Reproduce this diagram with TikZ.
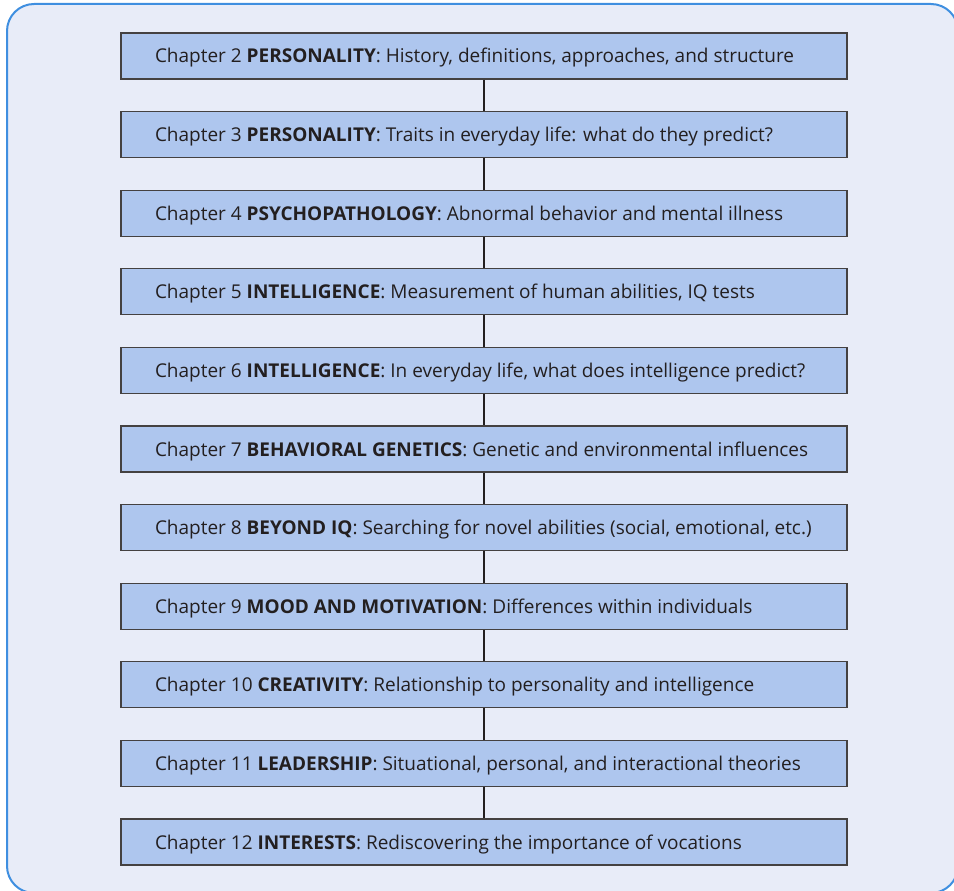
\documentclass[tikz,border=0pt]{standalone}
\usepackage{fontspec}
\setmainfont{Open Sans}
\usetikzlibrary{positioning}
\definecolor{panelfill}{HTML}{E8ECF8}
\definecolor{panelline}{HTML}{3F8FE0}
\definecolor{boxfill}{HTML}{AEC6EE}
\definecolor{inkgray}{HTML}{231F20}
\newcommand{\chapline}[1]{\makebox[658pt][l]{#1}}
\tikzset{
  chapbox/.style={draw=inkgray!85, line width=1.2pt, fill=boxfill, text=inkgray,
    minimum width=726pt, minimum height=46pt, text height=16pt, text depth=2pt,
    inner xsep=34pt, inner ysep=0pt, font=\fontsize{19}{22}\selectfont},
  link/.style={draw=inkgray, line width=2pt},
}
\begin{document}
\begin{tikzpicture}[x=1pt,y=-1pt]
				\useasboundingbox (0,0) rectangle (954,891);
				\begin{scope}
				\clip (0,0) rectangle (954,891);
				\draw[panelline, line width=2pt, fill=panelfill, rounded corners=27pt] (7,4) rectangle (958,893);
				\end{scope}
				
				\node[chapbox] (c2) at (484,56) {\chapline{Chapter 2 \textbf{PERSONALITY}: History, definitions, approaches, and structure}};
				\node[chapbox, below=31.4pt of c2] (c3) {\chapline{Chapter 3 \textbf{PERSONALITY}: Traits in everyday life: what do they predict?}};
				\node[chapbox, below=31.4pt of c3] (c4) {\chapline{Chapter 4 \textbf{PSYCHOPATHOLOGY}: Abnormal behavior and mental illness}};
				\node[chapbox, below=31.4pt of c4] (c5) {\chapline{Chapter 5 \textbf{INTELLIGENCE}: Measurement of human abilities, IQ tests}};
				\node[chapbox, below=31.4pt of c5] (c6) {\chapline{Chapter 6 \textbf{INTELLIGENCE}: In everyday life, what does intelligence predict?}};
				\node[chapbox, below=31.4pt of c6] (c7) {\chapline{Chapter 7 \textbf{BEHAVIORAL GENETICS}: Genetic and environmental influences}};
				\node[chapbox, below=31.4pt of c7] (c8) {\chapline{Chapter 8 \textbf{BEYOND IQ}: Searching for novel abilities (social, emotional, etc.)}};
				\node[chapbox, below=31.4pt of c8] (c9) {\chapline{Chapter 9 \textbf{MOOD AND MOTIVATION}: Differences within individuals}};
				\node[chapbox, below=31.4pt of c9] (c10) {\chapline{Chapter 10 \textbf{CREATIVITY}: Relationship to personality and intelligence}};
				\node[chapbox, below=31.4pt of c10] (c11) {\chapline{Chapter 11 \textbf{LEADERSHIP}: Situational, personal, and interactional theories}};
				\node[chapbox, below=31.4pt of c11] (c12) {\chapline{Chapter 12 \textbf{INTERESTS}: Rediscovering the importance of vocations}};
				
				\draw[link] (c2)--(c3);
				\draw[link] (c3)--(c4);
				\draw[link] (c4)--(c5);
				\draw[link] (c5)--(c6);
				\draw[link] (c6)--(c7);
				\draw[link] (c7)--(c8);
				\draw[link] (c8)--(c9);
				\draw[link] (c9)--(c10);
				\draw[link] (c10)--(c11);
				\draw[link] (c11)--(c12);
			\end{tikzpicture}
\end{document}
